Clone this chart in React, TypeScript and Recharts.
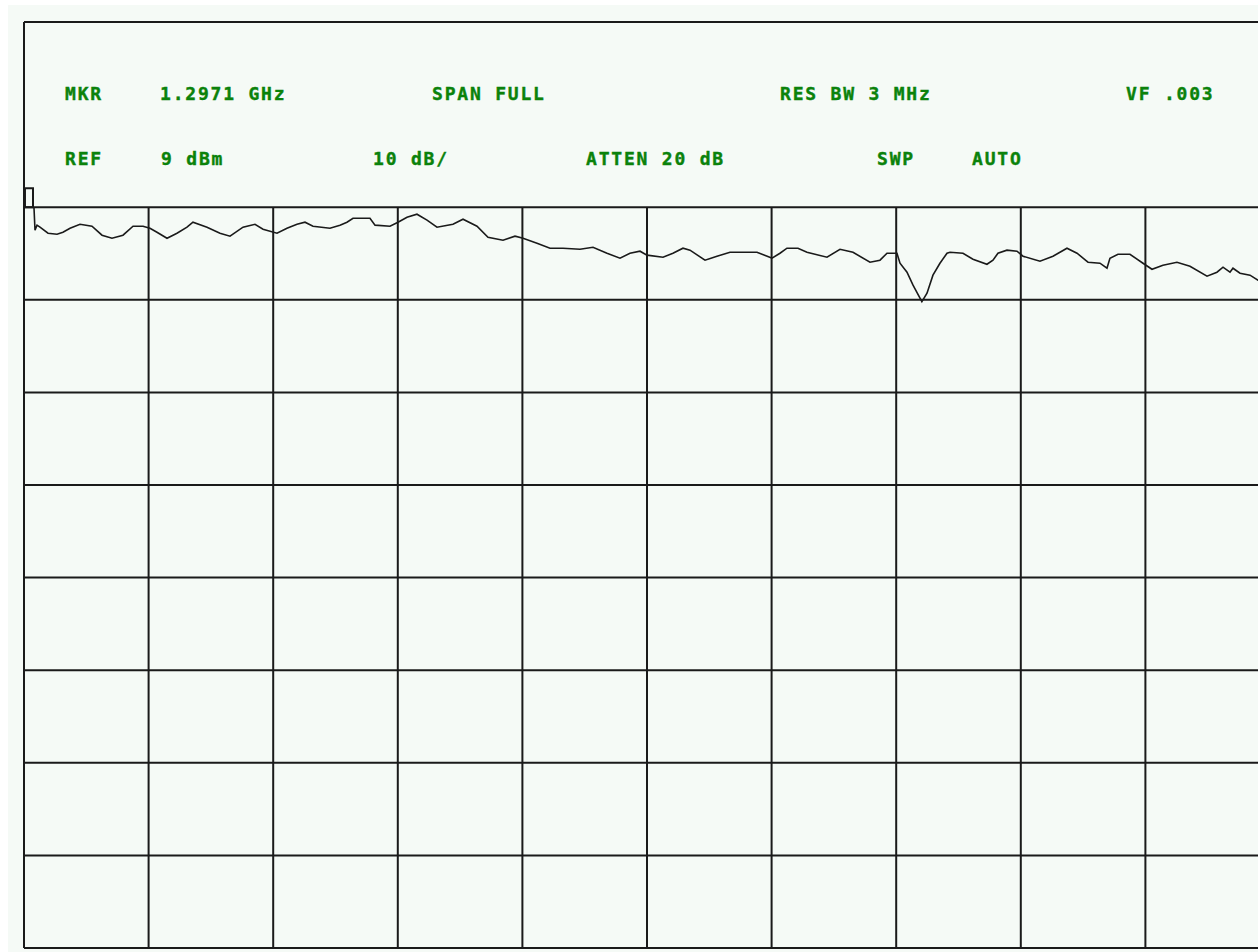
import React from "react";
import { LineChart, Line, XAxis, YAxis, CartesianGrid, ReferenceLine, ReferenceArea } from "recharts";

// sweep: frequency (GHz), level (dBm)
const freqGHz = [
  0.0144, 0.0159, 0.0188, 0.0231, 0.0347, 0.0477, 0.0563, 0.0665, 0.0809, 0.0982,
  0.1127, 0.1271, 0.143, 0.1575, 0.1719, 0.182, 0.1921, 0.2066, 0.221, 0.2355,
  0.2441, 0.2644, 0.2831, 0.2976, 0.3164, 0.3337, 0.3453, 0.3655, 0.3799, 0.3944,
  0.4059, 0.4175, 0.442, 0.4565, 0.4666, 0.4753, 0.4998, 0.5071, 0.5287, 0.5403,
  0.5533, 0.5677, 0.5822, 0.5966, 0.6197, 0.6342, 0.6544, 0.6703, 0.692, 0.7093,
  0.7209, 0.7411, 0.7599, 0.7786, 0.8032, 0.822, 0.8422, 0.861, 0.8754, 0.8899,
  0.9, 0.9231, 0.9375, 0.952, 0.9621, 0.9838, 1.0011, 1.0199, 1.0589, 1.0806,
  1.0921, 1.1022, 1.1181, 1.1311, 1.16, 1.1788, 1.1976, 1.2221, 1.2366, 1.2467,
  1.2611, 1.2655, 1.2756, 1.2843, 1.2971, 1.3045, 1.3131, 1.3232, 1.3334, 1.3377,
  1.3565, 1.3709, 1.3911, 1.3998, 1.407, 1.42, 1.4345, 1.4432, 1.4677, 1.4865,
  1.5067, 1.5212, 1.5371, 1.5544, 1.5645, 1.5688, 1.5804, 1.5977, 1.6165, 1.6295,
  1.6454, 1.6656, 1.6844, 1.709, 1.7234, 1.7321, 1.7422, 1.7465, 1.7567, 1.7711,
  1.7827, 1.8,
];
const levelDbm = [
  9.0, 6.52, 7.06, 6.84, 6.19, 6.08, 6.3, 6.73, 7.16, 6.95,
  5.98, 5.65, 5.98, 6.95, 6.95, 6.73, 6.3, 5.65, 6.19, 6.84,
  7.38, 6.84, 6.19, 5.87, 6.84, 7.16, 6.62, 6.19, 6.73, 7.16,
  7.38, 6.95, 6.73, 7.06, 7.38, 7.81, 7.81, 7.06, 6.95, 7.38,
  7.92, 8.24, 7.6, 6.84, 7.16, 7.7, 6.95, 5.76, 5.44, 5.87,
  5.65, 5.11, 4.57, 4.57, 4.46, 4.68, 4.03, 3.49, 4.03, 4.25,
  3.82, 3.6, 4.03, 4.57, 4.36, 3.28, 3.71, 4.14, 4.14, 3.49,
  4.03, 4.57, 4.57, 4.14, 3.6, 4.46, 4.14, 3.06, 3.28, 4.03,
  4.03, 2.95, 1.98, 0.58, -1.2, -0.29, 1.66, 2.95, 4.03, 4.14,
  4.03, 3.38, 2.84, 3.28, 4.03, 4.36, 4.25, 3.71, 3.17, 3.71,
  4.57, 4.03, 3.06, 2.95, 2.41, 3.49, 3.92, 3.92, 2.95, 2.3,
  2.74, 3.06, 2.63, 1.55, 1.98, 2.52, 1.98, 2.41, 1.87, 1.66,
  1.12, 0.9,
];

const refLevel = 9;
const dbPerDiv = 10;
const divsX = 10;
const divsY = 8;
const spanGHz = 1.8;
const markerBox = { x1: 0.0014, x2: 0.013, y1: 9, y2: 11.05 };

const headerRow1 = [
  { text: "MKR", x: 57 },
  { text: "1.2971 GHz", x: 152 },
  { text: "SPAN FULL", x: 424 },
  { text: "RES BW 3 MHz", x: 772 },
  { text: "VF .003", x: 1118 },
];
const headerRow2 = [
  { text: "REF", x: 57 },
  { text: "9 dBm", x: 153 },
  { text: "10 dB/", x: 365 },
  { text: "ATTEN 20 dB", x: 578 },
  { text: "SWP", x: 869 },
  { text: "AUTO", x: 964 },
];

const data = freqGHz.map((f, i) => ({ f, dbm: levelDbm[i] }));
const bottom = refLevel - divsY * dbPerDiv;
const top = refLevel + 2 * dbPerDiv;
const xTicks = Array.from({ length: divsX + 1 }, (_, i) => (i * spanGHz) / divsX);
const yTicks = Array.from({ length: divsY + 3 }, (_, i) => bottom + i * dbPerDiv);
const gridY = yTicks.filter((v) => v !== refLevel + dbPerDiv);

const green = "#0b820b";
const ink = "#1a1a1a";

function HeaderText({ x, y, text }: { x: number; y: number; text: string }) {
  return (
    <text
      x={x}
      y={y}
      fill={green}
      stroke={green}
      strokeWidth={0.4}
      fontFamily="DejaVu Sans Mono"
      fontWeight="bold"
      fontSize={18}
      letterSpacing={1.8}
    >
      {text}
    </text>
  );
}

export default function App() {
  return (
    <div
      style={{
        position: "fixed",
        left: 8,
        top: 5,
        right: 0,
        bottom: 0,
        overflow: "hidden",
        background: "#f5faf6",
      }}
    >
      <LineChart
        width={1290}
        height={960}
        data={data}
        margin={{ top: 17, left: 16, right: 28, bottom: 17 }}
      >
        <XAxis type="number" dataKey="f" domain={[0, spanGHz]} ticks={xTicks} hide />
        <YAxis type="number" domain={[bottom, top]} ticks={yTicks} hide />
        <CartesianGrid
          vertical={false}
          horizontalValues={gridY}
          stroke={ink}
          strokeWidth={2}
          strokeOpacity={1}
        />
        {xTicks.map((x) => (
          <ReferenceLine
            key={x}
            segment={[
              { x, y: refLevel },
              { x, y: bottom },
            ]}
            stroke={ink}
            strokeWidth={2}
          />
        ))}
        <ReferenceLine x={0} stroke={ink} strokeWidth={2} />
        <ReferenceArea
          x1={markerBox.x1}
          x2={markerBox.x2}
          y1={markerBox.y1}
          y2={markerBox.y2}
          fill="none"
          fillOpacity={0}
          stroke={ink}
          strokeWidth={2}
        />
        <Line
          type="linear"
          dataKey="dbm"
          stroke={ink}
          strokeWidth={1.6}
          dot={false}
          isAnimationActive={false}
        />
      </LineChart>
      <svg
        width={1300}
        height={960}
        style={{ position: "absolute", left: 0, top: 0, pointerEvents: "none" }}
      >
        {headerRow1.map((h) => (
          <HeaderText key={h.text} x={h.x} y={95} text={h.text} />
        ))}
        {headerRow2.map((h) => (
          <HeaderText key={h.text} x={h.x} y={160} text={h.text} />
        ))}
      </svg>
    </div>
  );
}
